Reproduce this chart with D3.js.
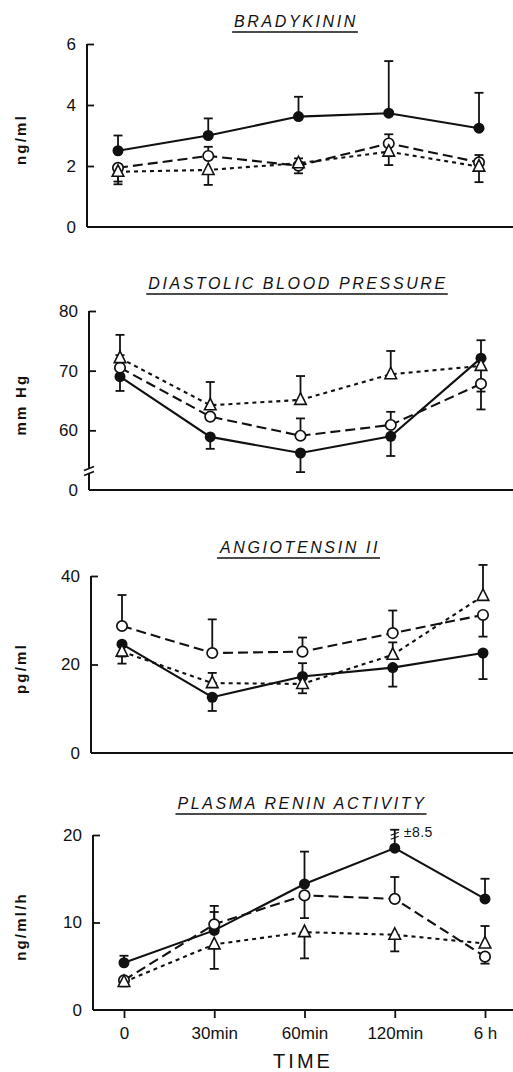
<!DOCTYPE html>
<html>
<head>
<meta charset="utf-8">
<title>bradykinin panels</title>
<style>
  body { margin: 0; background: #fff; }
  text { font-family: "Liberation Sans", Arial, sans-serif; fill: #111; }
</style>
</head>
<body>
<script src="https://d3js.org/d3.v7.min.js"></script>
<svg width="513" height="1072" id="mainsvg"></svg>
<script>
// time points (x categories)
const times = ["0", "30min", "60min", "120min", "6 h"];

// error values: positive = bar drawn upward, negative = drawn downward, null = none
// Bradykinin (ng/ml)
const bkFilled = [2.5, 3.0, 3.62, 3.73, 3.24];
const bkFilledErr = [0.5, 0.56, 0.65, 1.71, 1.16];
const bkOpen = [1.94, 2.33, 2.01, 2.74, 2.12];
const bkOpenErr = [-0.45, 0.3, 0.24, 0.3, 0.24];
const bkTri = [1.81, 1.87, 2.09, 2.47, 1.98];
const bkTriErr = [-0.41, -0.49, -0.33, -0.44, -0.51];

// Diastolic blood pressure (mm Hg)
const dbpFilled = [69.0, 58.9, 56.2, 59.0, 72.1];
const dbpFilledErr = [-2.4, -2.0, -3.2, -3.3, 3.0];
const dbpOpen = [70.5, 62.3, 59.1, 60.9, 67.8];
const dbpOpenErr = [2.1, null, 2.9, 2.2, -4.3];
const dbpTri = [72.1, 64.2, 65.1, 69.4, 70.8];
const dbpTriErr = [3.9, 3.9, 4.0, 3.9, -4.3];

// Angiotensin II (pg/ml)
const a2Filled = [24.6, 12.6, 17.3, 19.3, 22.6];
const a2FilledErr = [-2.8, -3.1, 3.0, -4.3, -5.9];
const a2Open = [28.7, 22.6, 22.9, 27.1, 31.2];
const a2OpenErr = [7.0, 7.6, 3.2, 5.1, -4.9];
const a2Tri = [22.9, 15.8, 15.6, 22.2, 35.5];
const a2TriErr = [-2.7, 2.3, -2.1, 2.8, 7.0];

// Plasma renin activity (ng/ml/h)
const praFilled = [5.4, 9.1, 14.4, 18.5, 12.7];
const praFilledErr = [0.8, 2.1, 3.7, 8.5, 2.3];
const praOpen = [3.4, 9.8, 13.1, 12.7, 6.1];
const praOpenErr = [null, 2.1, -2.6, 2.5, -0.8];
const praTri = [3.2, 7.5, 8.9, 8.6, 7.6];
const praTriErr = [-0.5, -2.8, -3.0, -1.9, 2.0];

const panels = [
  { title: "BRADYKININ", unit: "ng/ml", domain: [0, 6], ticks: [0, 2, 4, 6],
    top: 44, bottom: 227, axisX: 87, titleY: 27,
    series: [[bkFilled, bkFilledErr], [bkOpen, bkOpenErr], [bkTri, bkTriErr]] },
  { title: "DIASTOLIC BLOOD PRESSURE", unit: "mm Hg", domain: [50, 80], ticks: [50, 60, 70, 80],
    tickLabel: d => d === 50 ? "0" : d, brk: true,
    top: 311, bottom: 490, axisX: 89, titleY: 289,
    series: [[dbpFilled, dbpFilledErr], [dbpOpen, dbpOpenErr], [dbpTri, dbpTriErr]] },
  { title: "ANGIOTENSIN II", unit: "pg/ml", domain: [0, 40], ticks: [0, 20, 40],
    top: 576, bottom: 753, axisX: 91, titleY: 553,
    series: [[a2Filled, a2FilledErr], [a2Open, a2OpenErr], [a2Tri, a2TriErr]] },
  { title: "PLASMA RENIN ACTIVITY", unit: "ng/ml/h", domain: [0, 20], ticks: [0, 10, 20],
    top: 835, bottom: 1010, axisX: 93, titleY: 809, xAxis: true,
    series: [[praFilled, praFilledErr], [praOpen, praOpenErr], [praTri, praTriErr]] }
];

const styles = [
  { dash: null, marker: "filled" },
  { dash: "10,5", marker: "open" },
  { dash: "4,4", marker: "tri" }
];

const svg = d3.select("#mainsvg");
const W = +svg.attr("width");

panels.forEach(p => {
  const dx = p.axisX - 93;
  const x = d3.scalePoint().domain(times).range([124 + dx, 485 + dx]);
  const y = d3.scaleLinear().domain(p.domain).range([p.bottom, p.top]);
  const g = svg.append("g");

  // title, underlined
  const t = g.append("text")
    .attr("x", 302 + dx).attr("y", p.titleY)
    .attr("text-anchor", "middle")
    .style("font-size", "16px").style("font-style", "italic")
    .style("letter-spacing", "2.6px")
    .text(p.title);
  const bb = t.node().getBBox();
  g.append("line")
    .attr("x1", bb.x - 2).attr("x2", bb.x + bb.width)
    .attr("y1", p.titleY + 5).attr("y2", p.titleY + 5)
    .attr("stroke", "#111").attr("stroke-width", 1.6);

  // y axis label
  g.append("text")
    .attr("transform", `translate(26,${(p.top + p.bottom) / 2 + 4}) rotate(-90)`)
    .attr("text-anchor", "middle")
    .style("font-size", "15px").style("font-weight", "bold")
    .style("letter-spacing", "2.2px")
    .text(p.unit);

  // y axis with inward ticks
  const yAxis = d3.axisLeft(y).tickValues(p.ticks).tickSize(-7).tickPadding(11)
    .tickFormat(p.tickLabel || (d => d));
  const ya = g.append("g").attr("transform", `translate(${p.axisX},0)`).call(yAxis);
  ya.select(".domain").remove();
  ya.selectAll("line").attr("stroke", "#111").attr("stroke-width", 1.8);
  ya.selectAll("text").style("font-size", "17px").attr("fill", "#111");
  ya.selectAll(".tick").filter(d => d === p.domain[0]).select("line").remove();
  g.append("line")
    .attr("x1", p.axisX).attr("x2", p.axisX)
    .attr("y1", p.top).attr("y2", p.bottom)
    .attr("stroke", "#111").attr("stroke-width", 2);

  // x baseline
  g.append("line")
    .attr("x1", p.axisX).attr("x2", W)
    .attr("y1", p.bottom).attr("y2", p.bottom)
    .attr("stroke", "#111").attr("stroke-width", 2);

  if (p.brk) {
    const by = y(53.2);
    g.append("rect").attr("x", p.axisX - 2).attr("y", by - 3).attr("width", 4).attr("height", 5).attr("fill", "#fff");
    [-2.5, 2.5].forEach(o => {
      g.append("line")
        .attr("x1", p.axisX - 5).attr("x2", p.axisX + 5)
        .attr("y1", by + o + 2).attr("y2", by + o - 2)
        .attr("stroke", "#111").attr("stroke-width", 1.6);
    });
  }

  if (p.xAxis) {
    const xa = g.append("g").attr("transform", `translate(0,${p.bottom})`)
      .call(d3.axisBottom(x).tickSize(8).tickPadding(9));
    xa.select(".domain").remove();
    xa.selectAll("line").attr("stroke", "#111").attr("stroke-width", 1.8);
    xa.selectAll("text").style("font-size", "17px").attr("fill", "#111");
    g.append("text")
      .attr("x", 303).attr("y", 1068)
      .attr("text-anchor", "middle")
      .style("font-size", "20px").style("letter-spacing", "3px")
      .text("TIME");
  }

  const line = d3.line().x((d, i) => x(times[i])).y(d => y(d));

  // connecting lines
  p.series.forEach(([vals], si) => {
    g.append("path")
      .datum(vals)
      .attr("d", line)
      .attr("fill", "none")
      .attr("stroke", "#111")
      .attr("stroke-width", 2.1)
      .attr("stroke-dasharray", styles[si].dash);
  });

  // error bars (bars running far off the top are cut short with a break mark)
  const yMax = p.domain[1];
  const span = p.domain[1] - p.domain[0];
  p.series.forEach(([vals, errs]) => {
    vals.forEach((v, i) => {
      const e = errs[i];
      if (e == null) return;
      const cx = x(times[i]);
      let end = v + e;
      const clipped = end > yMax + span * 0.15;
      if (clipped) end = yMax + span * 0.03;
      const y1 = y(end);
      g.append("line").attr("x1", cx).attr("x2", cx)
        .attr("y1", y(v)).attr("y2", y1)
        .attr("stroke", "#111").attr("stroke-width", 1.8);
      g.append("line").attr("x1", cx - 4.5).attr("x2", cx + 4.5)
        .attr("y1", y1).attr("y2", y1)
        .attr("stroke", "#111").attr("stroke-width", 1.8);
      if (clipped) {
        [4, 8].forEach(o => {
          g.append("line").attr("x1", cx - 4).attr("x2", cx + 4)
            .attr("y1", y1 + o + 1.5).attr("y2", y1 + o - 1.5)
            .attr("stroke", "#111").attr("stroke-width", 1.3);
        });
        g.append("text").attr("x", cx + 9).attr("y", y1 + 7)
          .style("font-size", "14px").style("letter-spacing", "0.5px")
          .text("\u00b1" + e);
      }
    });
  });

  // markers
  p.series.forEach(([vals], si) => {
    const m = styles[si].marker;
    vals.forEach((v, i) => {
      const cx = x(times[i]), cy = y(v);
      if (m === "filled") {
        g.append("circle").attr("cx", cx).attr("cy", cy).attr("r", 5.5).attr("fill", "#111");
      } else if (m === "open") {
        g.append("circle").attr("cx", cx).attr("cy", cy).attr("r", 5.2)
          .attr("fill", "#fff").attr("stroke", "#111").attr("stroke-width", 1.7);
      } else {
        g.append("path")
          .attr("d", `M${cx},${cy - 7}L${cx + 5.8},${cy + 4.5}L${cx - 5.8},${cy + 4.5}Z`)
          .attr("fill", "#fff").attr("stroke", "#111").attr("stroke-width", 1.6);
      }
    });
  });
});
</script>
</body>
</html>
